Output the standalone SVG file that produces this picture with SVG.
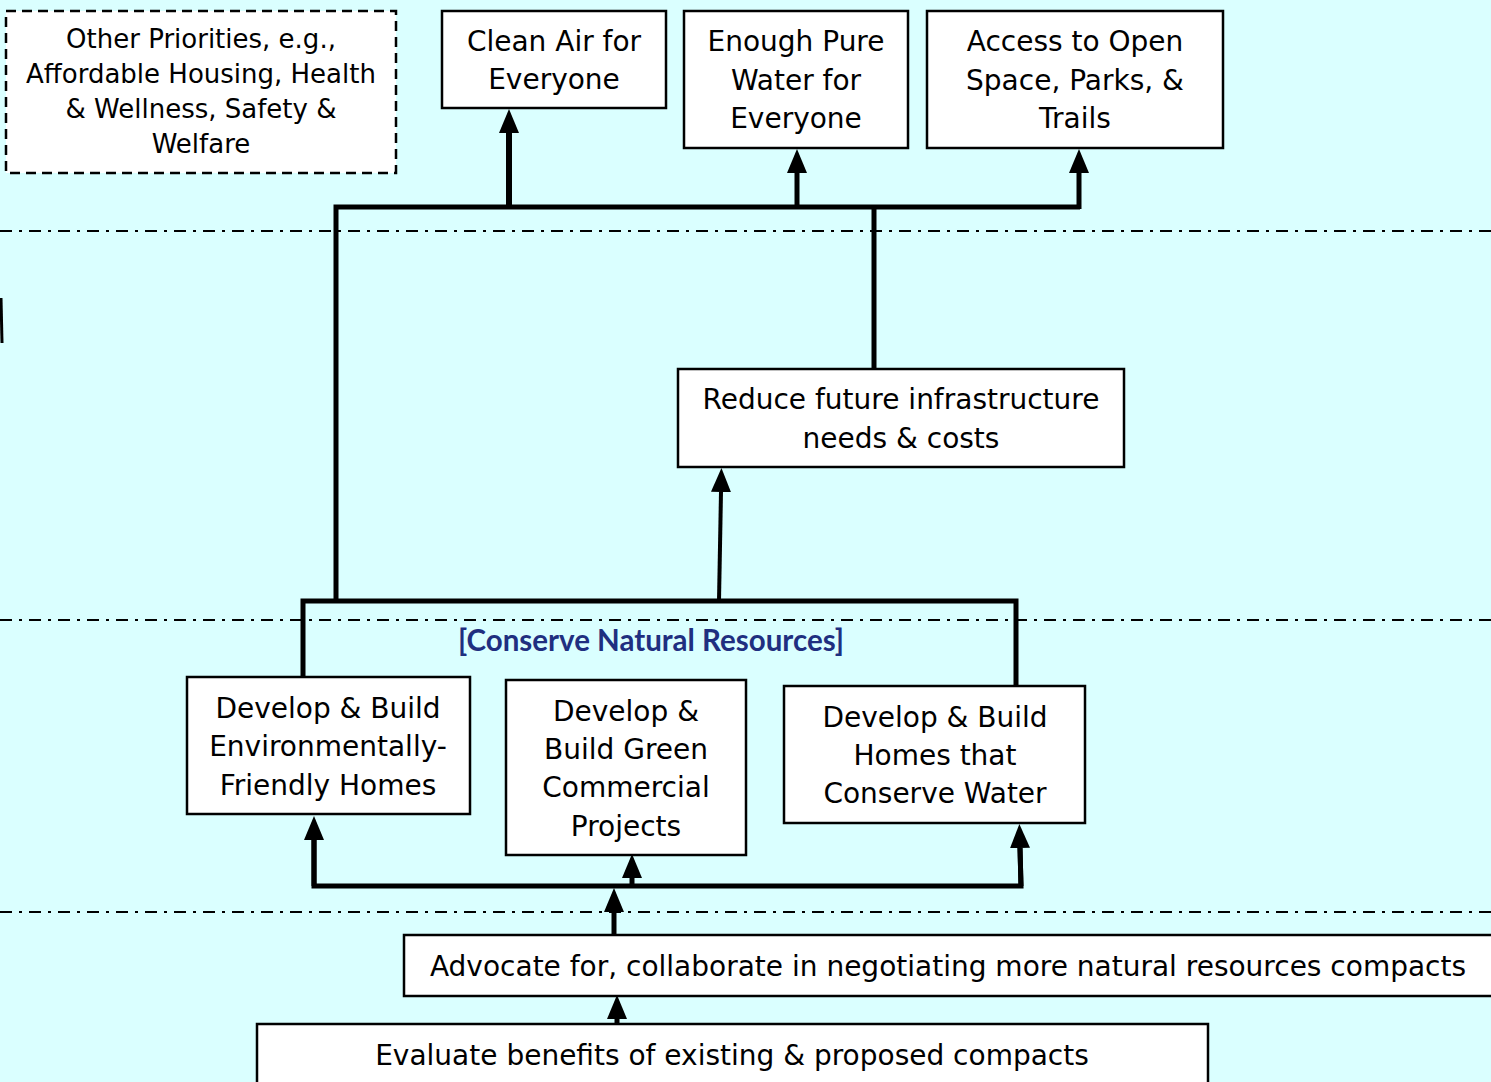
<svg xmlns="http://www.w3.org/2000/svg" width="1491" height="1082" viewBox="0 0 1491 1082">
<defs>
<style>
.bg{fill:#daffff}
.box{fill:#fff;stroke:#000;stroke-width:2.5}
.dbox{fill:#fff;stroke:#000;stroke-width:2.5;stroke-dasharray:10 6}
.sep{stroke:#000;stroke-width:2;stroke-dasharray:12 7 3 7;fill:none}
.c{stroke:#000;stroke-width:5;fill:none}
.t{font-family:"DejaVu Sans","Liberation Sans",sans-serif;font-size:28px;fill:#000;text-anchor:middle}
.s{font-size:26px}
.lab{font-family:Lato,"Open Sans","Liberation Sans",sans-serif;font-weight:bold;font-size:29.5px;fill:#1f2f80;text-anchor:middle}
</style>
<marker id="ah" markerUnits="userSpaceOnUse" markerWidth="24" markerHeight="22" viewBox="0 0 24 22" refX="0" refY="11" orient="auto">
<path d="M0 1 L24 11 L0 21 Z" fill="#000"/>
</marker>
</defs>
<rect class="bg" x="0" y="0" width="1491" height="1082"/>
<g id="separators">
<line class="sep" x1="0" y1="231" x2="1491" y2="231"/>
<line class="sep" x1="0" y1="620" x2="1491" y2="620"/>
<line class="sep" x1="0" y1="912" x2="1491" y2="912"/>
</g>
<g id="edge-mark"><line x1="1" y1="298" x2="2" y2="343" stroke="#000" stroke-width="3"/></g>
<g id="connectors">
<polyline class="c" points="336,601 336,207 1080,207"/>
<line class="c" x1="874" y1="207" x2="874" y2="369"/>
<line class="c" x1="509" y1="207" x2="509" y2="133" marker-end="url(#ah)" style="stroke-width:6"/>
<line class="c" x1="797" y1="207" x2="797" y2="173" marker-end="url(#ah)"/>
<line class="c" x1="1079" y1="209" x2="1079" y2="173" marker-end="url(#ah)"/>
<polyline class="c" points="303,677 303,601 1016,601 1016,686"/>
<line class="c" x1="719" y1="601" x2="721" y2="492" marker-end="url(#ah)" style="stroke-width:4"/>
<polyline class="c" points="314,840 314,886 1021,886 1020,848"/>
<line class="c" x1="314" y1="886" x2="314" y2="840" marker-end="url(#ah)"/>
<line class="c" x1="1021" y1="886" x2="1020" y2="848" marker-end="url(#ah)"/>
<line class="c" x1="632" y1="886" x2="632" y2="878" marker-end="url(#ah)"/>
<line class="c" x1="614" y1="935" x2="614" y2="912" marker-end="url(#ah)"/>
<line class="c" x1="617" y1="1024" x2="617" y2="1019" marker-end="url(#ah)"/>
</g>
<g id="other">
<rect class="dbox" x="6" y="11" width="390" height="162"/>
<text class="t s" x="201" y="48">Other Priorities, e.g.,</text>
<text class="t s" x="201" y="83">Affordable Housing, Health</text>
<text class="t s" x="201" y="118">&amp; Wellness, Safety &amp;</text>
<text class="t s" x="201" y="153">Welfare</text>
</g>
<g id="clean-air">
<rect class="box" x="442" y="11" width="224" height="97"/>
<text class="t" x="554" y="51">Clean Air for</text>
<text class="t" x="554" y="89">Everyone</text>
</g>
<g id="pure-water">
<rect class="box" x="684" y="11" width="224" height="137"/>
<text class="t" x="796" y="51">Enough Pure</text>
<text class="t" x="796" y="90">Water for</text>
<text class="t" x="796" y="128">Everyone</text>
</g>
<g id="open-space">
<rect class="box" x="927" y="11" width="296" height="137"/>
<text class="t" x="1075" y="51">Access to Open</text>
<text class="t" x="1075" y="90">Space, Parks, &amp;</text>
<text class="t" x="1075" y="128">Trails</text>
</g>
<g id="reduce">
<rect class="box" x="678" y="369" width="446" height="98"/>
<text class="t" x="901" y="409">Reduce future infrastructure</text>
<text class="t" x="901" y="448">needs &amp; costs</text>
</g>
<text class="lab" x="651" y="651">[Conserve Natural Resources]</text>
<g id="env-homes">
<rect class="box" x="187" y="677" width="283" height="137"/>
<text class="t" x="328" y="718">Develop &amp; Build</text>
<text class="t" x="328" y="756">Environmentally-</text>
<text class="t" x="328" y="795">Friendly Homes</text>
</g>
<g id="green-commercial">
<rect class="box" x="506" y="680" width="240" height="175"/>
<text class="t" x="626" y="721">Develop &amp;</text>
<text class="t" x="626" y="759">Build Green</text>
<text class="t" x="626" y="797">Commercial</text>
<text class="t" x="626" y="836">Projects</text>
</g>
<g id="water-homes">
<rect class="box" x="784" y="686" width="301" height="137"/>
<text class="t" x="935" y="727">Develop &amp; Build</text>
<text class="t" x="935" y="765">Homes that</text>
<text class="t" x="935" y="803">Conserve Water</text>
</g>
<g id="advocate">
<rect class="box" x="404" y="935" width="1100" height="61"/>
<text class="t" x="948" y="976">Advocate for, collaborate in negotiating more natural resources compacts</text>
</g>
<g id="evaluate">
<rect class="box" x="257" y="1024" width="951" height="70"/>
<text class="t" x="732" y="1065">Evaluate benefits of existing &amp; proposed compacts</text>
</g>
</svg>
